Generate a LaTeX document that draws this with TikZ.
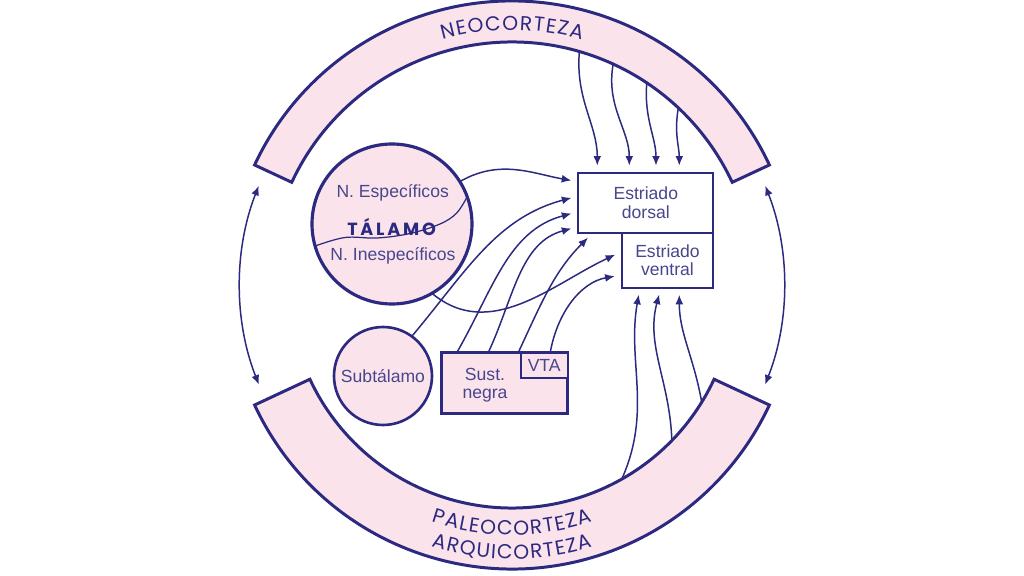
\documentclass[tikz,border=0pt]{standalone}
\usepackage{fontspec}
\setmainfont{Liberation Sans}
\newfontfamily\capsfont{Poppins}
\newfontfamily\talfont[LetterSpace=16]{Poppins}
\usepackage{xcolor}
\usepackage{tikz}
\usetikzlibrary{arrows.meta,positioning,decorations.text}

\definecolor{navy}{RGB}{44,42,128}
\definecolor{navytext}{RGB}{72,70,140}
\definecolor{rosa}{RGB}{251,227,236}

\begin{document}
\begin{tikzpicture}[
    >={Latex[length=5.5pt,width=4.5pt]},
    every node/.style={text=navytext, font=\fontsize{10}{10.5}\selectfont},
    band/.style={draw=navy, fill=rosa, line width=1.7pt},
    nucleo/.style={circle, draw=navy, fill=rosa, inner sep=0pt, outer sep=0pt},
    caja/.style={rectangle, draw=navy, fill=white, line width=1.1pt, align=center, inner sep=0pt, outer sep=0pt},
    conn/.style={->, draw=navy, line width=0.85pt, shorten >=4pt},
    corteza/.style={decorate, decoration={text effects along path, text align=center,
        text effects/.cd, text along path,
        character widths={inner xsep=0.35pt, font=\capsfont\fontsize{11.5}{13}\selectfont},
        characters={text=navy, inner xsep=0.35pt, font=\capsfont\fontsize{11.5}{13}\selectfont}}}
]
    \path[fill=white] (-10.24,-5.82) rectangle (10.24,5.7);
    \useasboundingbox (-10.24,-5.82) rectangle (10.24,5.7);

    % Cortex bands
    \draw[band] (25:5.68) arc[start angle=25, end angle=155, radius=5.68]
        -- (155:4.86) arc[start angle=155, end angle=25, radius=4.86] -- cycle;
    \draw[band] (205:5.68) arc[start angle=205, end angle=335, radius=5.68]
        -- (335:4.46) arc[start angle=335, end angle=205, radius=4.46] -- cycle;

    % Band labels
    \path[corteza, decoration={text={NEOCORTEZA}}]
        (125:5.1) arc[start angle=125, end angle=55, radius=5.1];
    \path[corteza, decoration={text={PALEOCORTEZA}}]
        (232:5.0) arc[start angle=232, end angle=308, radius=5.0];
    \path[corteza, decoration={text={ARQUICORTEZA}}]
        (235:5.48) arc[start angle=235, end angle=305, radius=5.48];

    % Reciprocal arrows between the bands
    \coordinate (izq) at (158.6:5.44);
    \coordinate (der) at (21.4:5.44);
    \draw[<->, navy, line width=0.85pt] (izq) arc[start angle=158.6, end angle=201.5, radius=5.44];
    \draw[<->, navy, line width=0.85pt] (der) arc[start angle=21.4, end angle=-21.5, radius=5.44];

    % Thalamus
    \node[nucleo, line width=1.8pt, minimum size=3.2cm] (tal) at (-2.4,1.22) {};
    \node (esp) at (-2.386,1.834) {N. Específicos};
    \node[text=navy, font=\talfont\fontsize{10}{12}\selectfont\bfseries] (talname) at (-2.408,1.17) {TÁLAMO};
    \node (inesp) at (-2.38,0.58) {N. Inespecíficos};
    \draw[navy, line width=0.7pt] plot[smooth, tension=0.6] coordinates
        {(tal.196) (-3.34,0.95) (-2.7,0.94) (-2.04,1.03) (-1.44,1.22) (-1.106,1.44) (tal.20)};

    % Subthalamus, substantia nigra, VTA
    \node[nucleo, line width=1.5pt, minimum size=1.96cm] (subt) at (-2.58,-1.82) {Subtálamo};
    \node[caja, fill=rosa, line width=1.7pt, minimum width=2.52cm, minimum height=1.21cm] (sn) at (-0.146,-1.96) {};
    \node[caja, fill=rosa, minimum width=0.94cm, minimum height=0.5cm, anchor=north east] (vta) at (sn.north east) {VTA};
    \node[align=center] (sntxt) at (-0.54,-2.0) {Sust.\\negra};

    % Striatum
    \node[caja, minimum width=2.7cm, minimum height=1.2cm] (dorsal) at (2.676,1.646) {Estriado\\dorsal};
    \node[caja, minimum width=1.832cm, minimum height=1.1cm, below left=0pt and 0pt of dorsal.south east] (ventral) {Estriado\\ventral};

    % Neocortex -> dorsal striatum
    \coordinate (neo1) at (73.9:4.86);
    \coordinate (neo2) at (65.4:4.86);
    \coordinate (neo3) at (56.3:4.86);
    \coordinate (neo4) at (46.8:4.86);
    \draw[conn] (neo1) to[out=-95,in=90] ([xshift=0.38cm]dorsal.north west);
    \draw[conn] (neo2) to[out=-100,in=90] ([xshift=1.02cm]dorsal.north west);
    \draw[conn] (neo3) to[out=-95,in=90] ([xshift=1.554cm]dorsal.north west);
    \draw[conn] (neo4) to[out=-100,in=90] ([xshift=2.02cm]dorsal.north west);

    % Paleo/archicortex -> ventral striatum
    \coordinate (paleo1) at (-60.5:4.46);
    \coordinate (paleo2) at (-44.2:4.46);
    \coordinate (paleo3) at (-31.7:4.46);
    \draw[conn] (paleo1) to[out=66,in=-100] ([xshift=0.366cm]ventral.south west);
    \draw[conn] (paleo2) to[out=92,in=-105] ([xshift=0.786cm]ventral.south west);
    \draw[conn] (paleo3) to[out=100,in=-90] ([xshift=1.152cm]ventral.south west);

    % Subcortical inputs
    \draw[conn] (tal.32) to[out=30,in=170] ([yshift=-0.18cm]dorsal.north west);
    \draw[conn] (subt.54) to[out=50,in=195] ([yshift=-0.466cm]dorsal.north west);
    \draw[conn] ([xshift=0.3cm]sn.north west) to[out=60,in=195] ([yshift=-0.78cm]dorsal.north west);
    \draw[conn] ([xshift=0.93cm]sn.north west) to[out=65,in=195] ([yshift=-1.08cm]dorsal.north west);
    \draw[conn] ([xshift=1.53cm]sn.north west) to[out=65,in=225] ([xshift=0.294cm]dorsal.south west);
    \draw[conn] (tal.-60) to[out=-40,in=205] ([yshift=-0.38cm]ventral.north west);
    \draw[conn] ([xshift=0.12cm]vta.north) to[out=80,in=190] ([yshift=-0.846cm]ventral.north west);
\end{tikzpicture}
\end{document}
